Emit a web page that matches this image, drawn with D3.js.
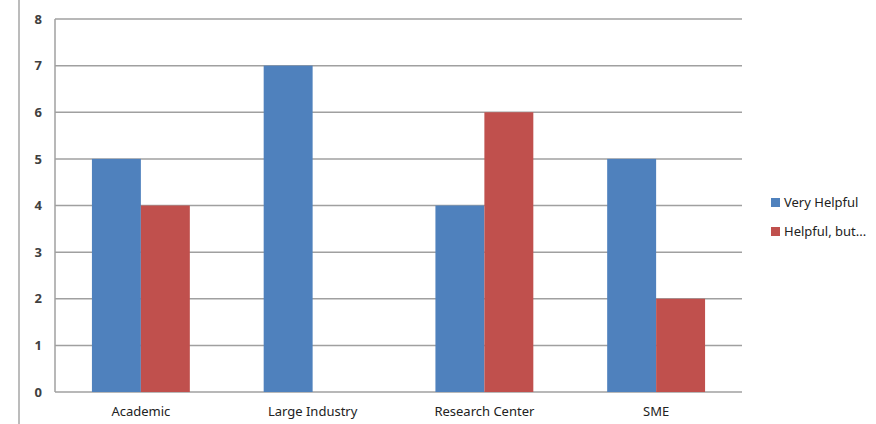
<!DOCTYPE html>
<html>
<head>
<meta charset="utf-8">
<script src="https://cdn.jsdelivr.net/npm/d3@7"></script>
<style>
  body { margin: 0; background: #fff; }
  svg { display: block; font-family: "Noto Sans", "Open Sans", sans-serif; }
</style>
</head>
<body>
<div id="vis"></div>
<script>
const categories = ["Academic", "Large Industry", "Research Center", "SME"];
const seriesNames = ["Very Helpful", "Helpful, but..."];
const veryHelpful = [5, 7, 4, 5];
const helpfulBut = [4, 0, 6, 2];
const yTicks = [0, 1, 2, 3, 4, 5, 6, 7, 8];
const colors = ["#4f81bd", "#c0504d"];

const width = 876, height = 424;
const margin = { top: 19, right: 134, bottom: 32, left: 55 };
const innerW = width - margin.left - margin.right;
const innerH = height - margin.top - margin.bottom;

const svg = d3.select("#vis")
    .append("svg")
    .attr("width", width)
    .attr("height", height);

// outer frame line on the left edge
svg.append("line")
    .attr("x1", 19).attr("x2", 19)
    .attr("y1", 0).attr("y2", height)
    .attr("stroke", "#a6a6a6")
    .attr("stroke-width", 1.5);

const g = svg.append("g")
    .attr("transform", "translate(" + margin.left + "," + margin.top + ")");

const x = d3.scaleBand()
    .domain(categories)
    .range([0, innerW])
    .paddingInner(0.43)
    .paddingOuter(0.215);

// x is the category band; inner band splits it per series
const xs = d3.scaleBand()
    .domain(seriesNames)
    .range([0, x.bandwidth()]);

const y = d3.scaleLinear()
    .domain([0, 8])
    .range([innerH, 0]);

//gridlines
g.selectAll(".grid")
    .data(yTicks)
    .enter()
    .append("line")
    .attr("x1", 0)
    .attr("x2", innerW)
    .attr("y1", (d) => y(d))
    .attr("y2", (d) => y(d))
    .attr("stroke", "#a0a0a0")
    .attr("stroke-width", 1.5);

g.append("line")
    .attr("x1", 0).attr("x2", 0)
    .attr("y1", 0).attr("y2", innerH)
    .attr("stroke", "#a0a0a0")
    .attr("stroke-width", 1.5);

const rows = categories.map((c, i) => ({ cat: c, values: [veryHelpful[i], helpfulBut[i]] }));

const groups = g.selectAll(".cat")
    .data(rows)
    .enter()
    .append("g")
    .attr("transform", (d) => "translate(" + x(d.cat) + ",0)");

groups.selectAll("rect")
    .data((d) => d.values.map((v, j) => ({ name: seriesNames[j], v: v, j: j })))
    .enter()
    .filter((d) => d.v > 0)
    .append("rect")
    .attr("x", (d) => xs(d.name))
    .attr("width", xs.bandwidth())
    .attr("y", (d) => y(d.v))
    .attr("height", (d) => innerH - y(d.v))
    .attr("fill", (d) => colors[d.j]);

// axes via d3 axis, then strip the domain/ticks
const yAxis = g.append("g")
    .call(d3.axisLeft(y).tickValues(yTicks).tickSize(0).tickPadding(13));
yAxis.select(".domain").remove();
yAxis.selectAll("text")
    .style("font-size", "13px")
    .style("font-weight", "bold")
    .attr("fill", "#404040")
    .attr("font-family", "\"Noto Sans\", sans-serif");

const xAxis = g.append("g")
    .attr("transform", "translate(0," + innerH + ")")
    .call(d3.axisBottom(x).tickSize(0).tickPadding(15));
xAxis.select(".domain").remove();
xAxis.selectAll("text")
    .style("font-size", "13px")
    .attr("fill", "#222")
    .attr("font-family", "\"Noto Sans\", sans-serif");

//legend
const legend = svg.append("g")
    .attr("transform", "translate(771,198)");

const item = legend.selectAll(".item")
    .data(seriesNames)
    .enter()
    .append("g")
    .attr("transform", (d, i) => "translate(0," + i * 29 + ")");

item.append("rect")
    .attr("width", 9)
    .attr("height", 9)
    .attr("fill", (d, i) => colors[i]);

item.append("text")
    .attr("x", 13)
    .attr("y", 9)
    .style("font-size", "13px")
    .attr("fill", "#222")
    .text((d) => d);
</script>
</body>
</html>
